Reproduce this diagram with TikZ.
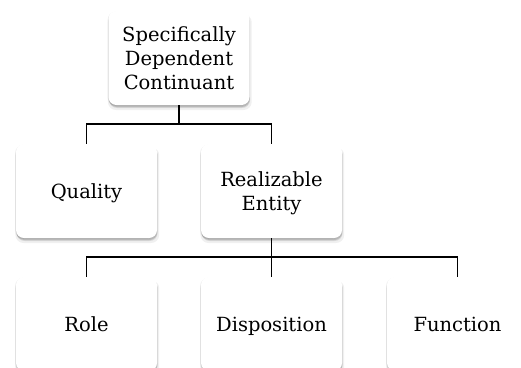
\documentclass[tikz,border=0pt]{standalone}
\usepackage{fontspec}
\setmainfont{DejaVu Serif}
\usetikzlibrary{shadows}
\newcommand\lnst{\rule[-5pt]{0pt}{24pt}}
\tikzset{
  softshadow/.style={
    drop shadow={shadow xshift=0.8pt, shadow yshift=-4pt, opacity=0.06, fill=black, shadow scale=1.02},
    drop shadow={shadow xshift=0.6pt, shadow yshift=-3pt, opacity=0.10, fill=black},
    drop shadow={shadow xshift=0.3pt, shadow yshift=-2pt, opacity=0.14, fill=black},
    drop shadow={shadow xshift=-0.8pt, shadow yshift=-0.8pt, opacity=0.08, fill=black}
  },
  catbox/.style={rectangle, rounded corners=8pt, fill=white, softshadow,
    minimum width=141pt, minimum height=94pt, inner sep=0pt, align=center,
    font=\fontsize{19.5}{24}\selectfont},
  link/.style={draw=black, line width=1.5pt}
}
\begin{document}
\begin{tikzpicture}[x=1pt, y=-1pt]
\useasboundingbox (0,0) rectangle (521,367);
\fill[white] (0,0) rectangle (521,367);
\node[catbox] (sdc) at (179,58) {\lnst Specifically\\\lnst Dependent\\\lnst Continuant};
\node[catbox] (qual) at (86.5,191) {\lnst Quality};
\node[catbox] (real) at (271.5,191) {\lnst Realizable\\\lnst Entity};
\node[catbox] (role) at (86.5,324) {\lnst Role};
\node[catbox] (disp) at (271.5,324) {\lnst Disposition};
\node[catbox] (func) at (457.5,324) {\lnst Function};
\draw[link] (sdc.south) -- ++(0,19) -| (qual.north);
\draw[link] (sdc.south) -- ++(0,19) -| (real.north);
\draw[link] (real.south) -- ++(0,19) -| (role.north);
\draw[link] (real.south) -- (disp.north);
\draw[link] (real.south) -- ++(0,19) -| (func.north);
\end{tikzpicture}
\end{document}
